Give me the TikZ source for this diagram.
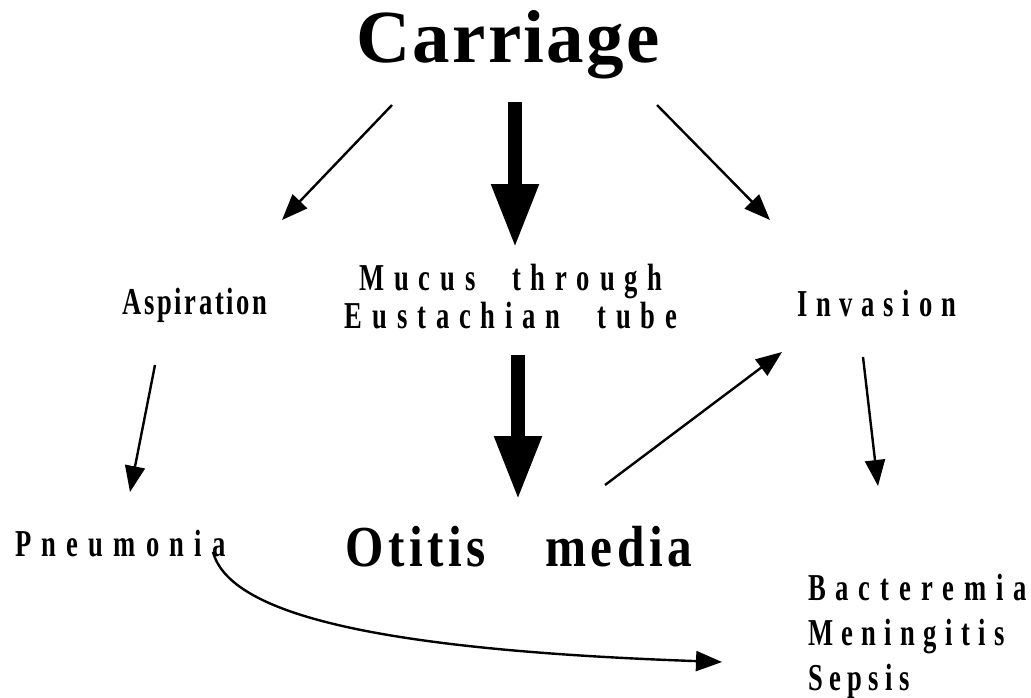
\documentclass[tikz,border=0pt]{standalone}
\usepackage{fontspec}
\setmainfont{Liberation Serif}
\newfontfamily\narrowfont{Liberation Serif}[FakeStretch=0.85]
\newfontfamily\slimfont{Liberation Serif}[FakeStretch=0.7]
\usetikzlibrary{positioning,arrows.meta}
\newcommand\lblsize[2]{\fontsize{#1pt}{#1pt}\selectfont\addfontfeatures{LetterSpace=#2}}

\begin{document}
\begin{tikzpicture}[
        x=1pt, y=-1pt,
        lbl/.style={inner sep=0pt, anchor=base west},
        arr/.style={-{Triangle[length=26pt, width=20pt]}, line width=2.4pt},
        fatarr/.style={-{Triangle[length=64pt, width=44pt]}, line width=14pt}
      ]
        \useasboundingbox (0,0) rectangle (1031,697);

        \node[inner sep=0pt, anchor=base, font=\bfseries\lblsize{75}{3}]
              (carriage) at (508,62) {Carriage};
        \node[lbl, font=\slimfont\bfseries\lblsize{38}{7}] (aspiration) at (122,314) {Aspiration};
        \node[inner sep=0pt, anchor=north, align=center,
              font=\slimfont\bfseries\fontsize{38pt}{38pt}\selectfont\addfontfeatures{LetterSpace=26}]
              (mucus) at (511,264) {Mucus\hspace{20pt} through\\Eustachian\hspace{20pt} tube};
        \node[lbl, font=\slimfont\bfseries\lblsize{38}{23}] (invasion) at (797,316) {Invasion};

        \node[lbl, font=\slimfont\bfseries\lblsize{38}{27}] (pneumonia) at (15,556) {Pneumonia};
        \node[lbl, font=\narrowfont\bfseries\lblsize{58}{8}] (otitis) at (345,566) {Otitis\hspace{42pt} media};
        \node[lbl, font=\slimfont\bfseries\lblsize{38}{26}] (bacteremia) at (808,600) {Bacteremia};
        \node[lbl, font=\slimfont\bfseries\lblsize{38}{22}] (meningitis)
              at ([yshift=-45pt]bacteremia.base west) {Meningitis};
        \node[lbl, font=\slimfont\bfseries\lblsize{38}{17}] (sepsis)
              at ([yshift=-45pt]meningitis.base west) {Sepsis};

        % free arrow ends
        \coordinate (carr-l) at (392,105);  \coordinate (asp-t) at (282,220);
        \coordinate (carr-m) at (515,102);  \coordinate (muc-t) at (515,248);
        \coordinate (carr-r) at (657,105);  \coordinate (inv-t) at (770,220);
        \coordinate (asp-b) at (155,365);   \coordinate (pne-t) at (130,492);
        \coordinate (muc-b) at (518,355);   \coordinate (oti-t) at (518,500);
        \coordinate (oti-r) at (605,485);   \coordinate (inv-l) at (782,352);
        \coordinate (inv-b) at (863,357);   \coordinate (bac-t) at (878,486);
        \coordinate (pne-r) at (213,552);   \coordinate (men-l) at (722,662);

        \draw[arr] (carr-l) -- (asp-t);
        \draw[fatarr] (carr-m) -- (muc-t);
        \draw[arr] (carr-r) -- (inv-t);
        \draw[arr] (asp-b) -- (pne-t);
        \draw[fatarr] (muc-b) -- (oti-t);
        \draw[arr] (oti-r) -- (inv-l);
        \draw[arr] (inv-b) -- (bac-t);
        \draw[arr] (pne-r) .. controls (230,615) and (380,650) .. (men-l);
      \end{tikzpicture}
\end{document}
